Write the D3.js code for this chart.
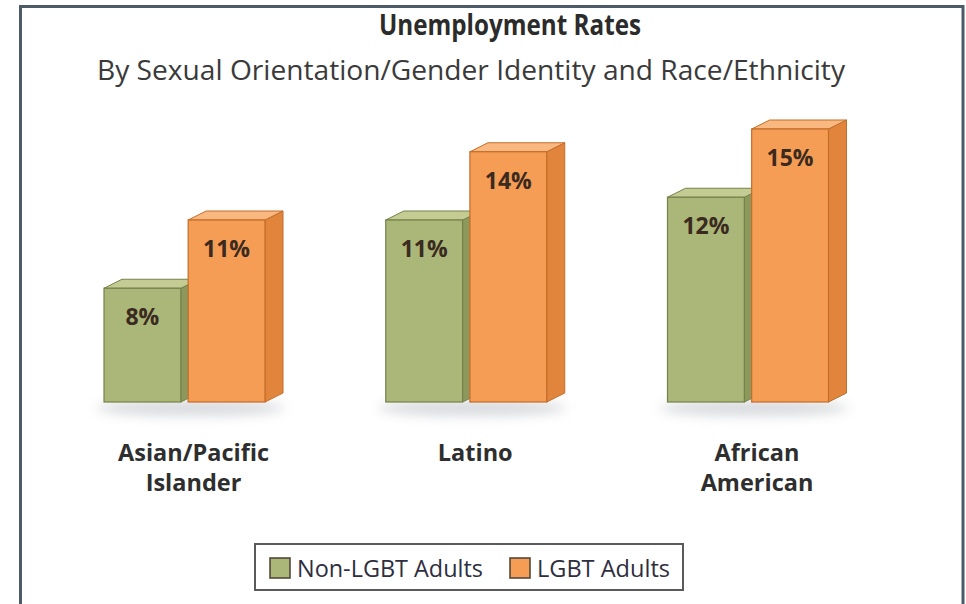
<!DOCTYPE html>
<html><head><meta charset="utf-8">
<script src="https://cdn.jsdelivr.net/npm/d3@7"></script>
<style>html,body{margin:0;padding:0;background:#fff;}svg{display:block;}</style>
</head><body>
<svg id="chart" width="966" height="604"></svg>
<script>
const categories = [["Asian/Pacific","Islander"],["Latino"],["African","American"]];
const categoryKeys = ["Asian/Pacific Islander","Latino","African American"];
const series = ["Non-LGBT Adults","LGBT Adults"];
const nonLgbtValues = [8, 11, 12];
const lgbtValues = [11, 14, 15];
const valueLabels = [["8%","11%"],["11%","14%"],["12%","15%"]];

const title = "Unemployment Rates";
const subtitle = "By Sexual Orientation/Gender Identity and Race/Ethnicity";

const palette = {
  "Non-LGBT Adults": {front:"#abb679", side:"#8d995c", top:"#c4cc94", stroke:"#75814a"},
  "LGBT Adults": {front:"#f59d55", side:"#e2853c", top:"#f8b880", stroke:"#c46d2a"}
};

const svg = d3.select("#chart");
const font = "'Open Sans', 'Noto Sans', sans-serif";

// frame
svg.append("rect").attr("x",20.5).attr("y",6.5).attr("width",942.5).attr("height",700)
  .attr("fill","#fff").attr("stroke","#4d5b69").attr("stroke-width",3);

// titles
svg.append("text").attr("x",510).attr("y",35).attr("text-anchor","middle")
  .attr("font-family",font).attr("font-weight",700).attr("font-size",28)
  .attr("fill","#2b2b2b").attr("textLength",262).attr("lengthAdjust","spacingAndGlyphs").text(title);
svg.append("text").attr("x",471).attr("y",80).attr("text-anchor","middle")
  .attr("font-family",font).attr("font-size",26.5)
  .attr("fill","#3a3a3a").attr("textLength",748).attr("lengthAdjust","spacingAndGlyphs").text(subtitle);

const data = categoryKeys.map((c,i)=>({cat:c, lines:categories[i],
  vals:[{s:series[0], v:nonLgbtValues[i], label:valueLabels[i][0]},
        {s:series[1], v:lgbtValues[i], label:valueLabels[i][1]}]}));

const x0 = d3.scalePoint().domain(categoryKeys).range([184.5, 748]);
const groupW = 161;
const x1 = d3.scaleBand().domain(series).range([0, groupW]).paddingInner(0.087);
const y = d3.scaleLinear().domain([3, 15]).range([402, 129]);
const dx = 18, dy = 9;

const defs = svg.append("defs");
const blur = defs.append("filter").attr("id","shadow").attr("x","-20%").attr("y","-100%").attr("width","140%").attr("height","300%");
blur.append("feGaussianBlur").attr("stdDeviation",6);

const groups = svg.selectAll("g.grp").data(data).join("g").attr("class","grp")
  .attr("transform", d=>`translate(${x0(d.cat)-groupW/2},0)`);

// shadow
groups.append("ellipse").attr("cx",groupW/2+6).attr("cy",y(3)+6).attr("rx",groupW/2+14).attr("ry",8)
  .attr("fill","#b9bcc2").attr("opacity",0.55).attr("filter","url(#shadow)");

groups.each(function(d){
  const g = d3.select(this);
  d.vals.forEach(b=>{
    const c = palette[b.s];
    const xL = x1(b.s), w = x1.bandwidth(), yt = y(b.v), yb = y(3);
    g.append("polygon").attr("points",[[xL+w,yt],[xL+w+dx,yt-dy],[xL+w+dx,yb-dy],[xL+w,yb]].join(" "))
      .attr("fill",c.side).attr("stroke",c.stroke).attr("stroke-width",1).attr("stroke-linejoin","round");
    g.append("polygon").attr("points",[[xL,yt],[xL+dx,yt-dy],[xL+w+dx,yt-dy],[xL+w,yt]].join(" "))
      .attr("fill",c.top).attr("stroke",c.stroke).attr("stroke-width",1).attr("stroke-linejoin","round");
    g.append("rect").attr("x",xL).attr("y",yt).attr("width",w).attr("height",yb-yt)
      .attr("fill",c.front).attr("stroke",c.stroke).attr("stroke-width",1.2);
    g.append("text").attr("x",xL+w/2).attr("y",yt+37).attr("text-anchor","middle")
      .attr("font-family",font).attr("font-weight",700).attr("font-size",23)
      .attr("fill","#3a2a20").text(b.label);
  });
  const t = g.append("text").attr("x",groupW/2+9).attr("y",461).attr("text-anchor","middle")
    .attr("font-family",font).attr("font-weight",700).attr("font-size",23.5).attr("fill","#2e2e2e");
  d.lines.forEach((ln,i)=>t.append("tspan").attr("x",groupW/2+9).attr("dy",i?30:0).text(ln));
});

// legend
const lg = svg.append("g");
lg.append("rect").attr("x",255).attr("y",544).attr("width",428).attr("height",46)
  .attr("fill","#fff").attr("stroke","#5a5a5a").attr("stroke-width",2);
const legX = d3.scaleOrdinal().domain(series).range([270, 510]);
const legW = d3.scaleOrdinal().domain(series).range([186, 133]);
series.forEach(s=>{
  lg.append("rect").attr("x",legX(s)).attr("y",558).attr("width",20).attr("height",20)
    .attr("fill",palette[s].front).attr("stroke","#4a4030").attr("stroke-width",1.5);
  lg.append("text").attr("x",legX(s)+27).attr("y",577).attr("font-family",font).attr("font-size",23)
    .attr("fill","#2e2e40").attr("textLength",legW(s)).attr("lengthAdjust","spacingAndGlyphs").text(s);
});
</script>
</body></html>
